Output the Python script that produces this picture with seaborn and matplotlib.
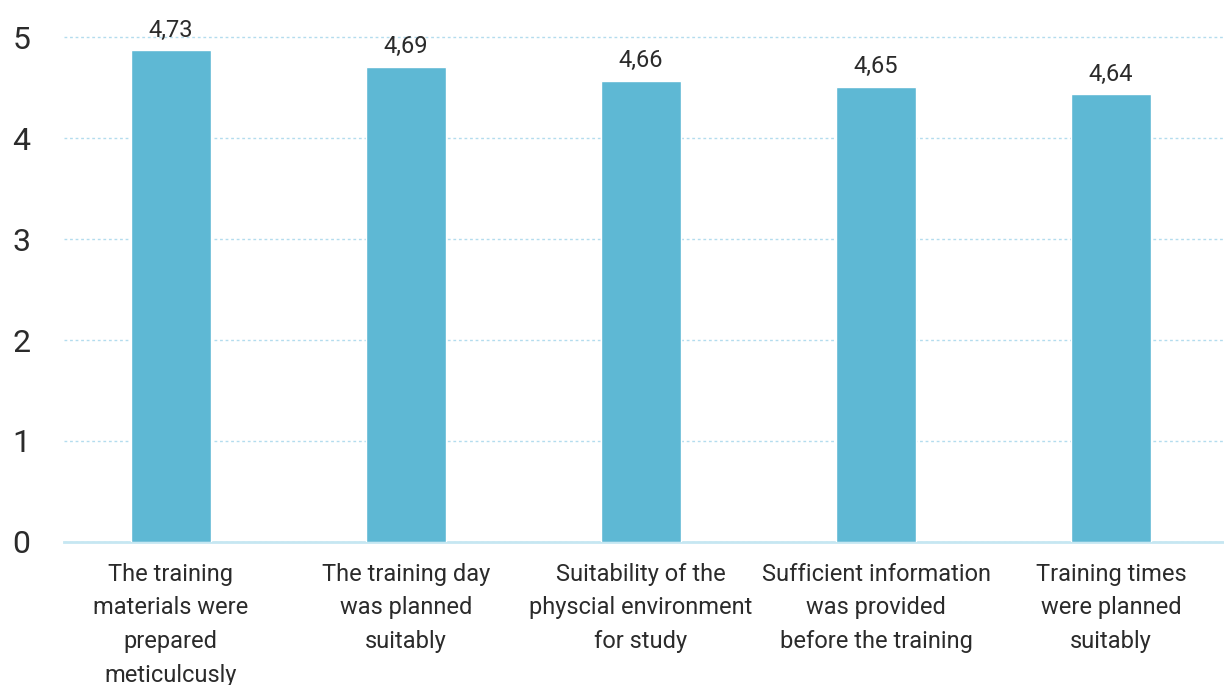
import matplotlib
matplotlib.use("Agg")
import matplotlib.pyplot as plt
import seaborn as sns
from matplotlib import font_manager

# ---------------------------------------------------------
# DATA
# ---------------------------------------------------------
categories = [
    "The training\nmaterials were\nprepared\nmeticulcusly",
    "The training day\nwas planned\nsuitably",
    "Suitability of the\nphyscial environment\nfor study",
    "Sufficient information\nwas provided\nbefore the training",
    "Training times\nwere planned\nsuitably",
]
# bar heights as drawn in the picture
bar_heights = [4.87, 4.71, 4.57, 4.51, 4.44]
# value labels printed above the bars
value_labels = ["4,73", "4,69", "4,66", "4,65", "4,64"]

BAR_COLOR = "#5eb8d4"
TEXT_COLOR = "#2b2b2b"
GRID_COLOR = "#b3dcee"

# ---------------------------------------------------------
# STYLE
# ---------------------------------------------------------
sns.set_style("white")
names = {f.name for f in font_manager.fontManager.ttflist}
family = [f for f in ["Liberation Sans Narrow", "Roboto", "DejaVu Sans"] if f in names]
plt.rcParams["font.family"] = family

# ---------------------------------------------------------
# PLOT
# ---------------------------------------------------------
fig = plt.figure(figsize=(12.24, 6.85), dpi=100)
ax = fig.add_axes([0.052, 0.209, 0.948, 0.791])

sns.barplot(x=categories, y=bar_heights, color=BAR_COLOR, width=0.34,
            saturation=1, ax=ax, zorder=3)

ax.bar_label(ax.containers[0], labels=value_labels, padding=6,
             fontsize=17, color=TEXT_COLOR)

ax.set_ylim(0, 5.37)
ax.set_xlim(-0.455, 4.48)
ax.set_yticks([0, 1, 2, 3, 4, 5])
ax.yaxis.grid(True, color=GRID_COLOR, linestyle=(0, (2, 2)), linewidth=1, zorder=0)

for side in ["top", "right", "left"]:
    ax.spines[side].set_visible(False)
ax.spines["bottom"].set_color("#c6e7f2")
ax.spines["bottom"].set_linewidth(2)

ax.tick_params(axis="y", length=0, labelsize=23, labelcolor=TEXT_COLOR, pad=24)
ax.tick_params(axis="x", length=0, labelsize=17, labelcolor=TEXT_COLOR, pad=15)
for lbl in ax.get_xticklabels():
    lbl.set_linespacing(1.6)
    lbl.set_verticalalignment("top")

ax.set_xlabel("")
ax.set_ylabel("")

fig.savefig("out.png", dpi=100)
